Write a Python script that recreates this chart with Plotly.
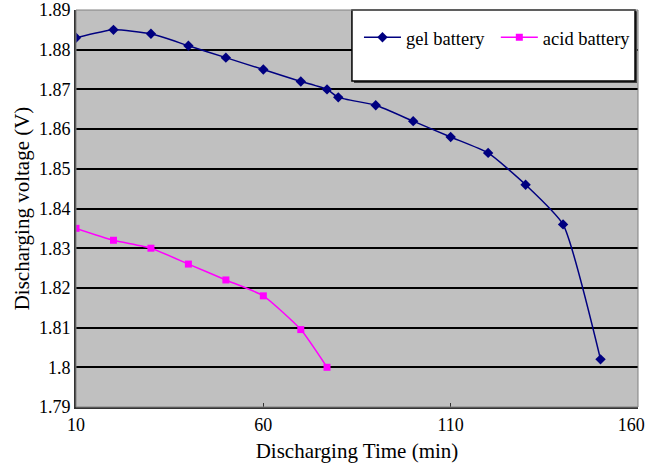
import plotly.graph_objects as go

gel_time = [10, 20, 30, 40, 50, 60, 70, 77, 80, 90, 100, 110, 120, 130, 140, 150]
gel_voltage = [1.883, 1.885, 1.884, 1.881, 1.878, 1.875, 1.872, 1.870, 1.868, 1.866,
               1.862, 1.858, 1.854, 1.846, 1.836, 1.802]
acid_time = [10, 20, 30, 40, 50, 60, 70, 77]
acid_voltage = [1.835, 1.832, 1.830, 1.826, 1.822, 1.818, 1.8095, 1.800]

x_ticks = [10, 60, 110, 160]
x_tick_text = ["10", "60", "110", "160\u00a0\u00a0\u00a0"]
y_ticks = [1.79, 1.80, 1.81, 1.82, 1.83, 1.84, 1.85, 1.86, 1.87, 1.88, 1.89]
y_tick_text = ["1.79", "1.8", "1.81", "1.82", "1.83", "1.84", "1.85", "1.86", "1.87", "1.88", "1.89"]

FONT = "Liberation Serif"

fig = go.Figure()
fig.add_trace(go.Scatter(
    x=gel_time, y=gel_voltage, name="gel battery", mode="lines+markers",
    line=dict(color="#000080", width=1.5, shape="spline", smoothing=0.5),
    marker=dict(symbol="diamond", size=8, color="#000080"),
    legend="legend",
))
fig.add_trace(go.Scatter(
    x=acid_time, y=acid_voltage, name="acid battery", mode="lines+markers",
    line=dict(color="#ff00ff", width=1.5, shape="spline", smoothing=0.5),
    marker=dict(symbol="square", size=7, color="#ff00ff"),
    legend="legend2",
))

# legend box (shadow + white box)
fig.add_shape(type="rect", xref="paper", yref="paper",
              x0=0.4947, x1=0.9982, y0=0.816, y1=0.997,
              fillcolor="#404040", line=dict(width=0), layer="above")
fig.add_shape(type="rect", xref="paper", yref="paper",
              x0=0.491, x1=0.9947, y0=0.821, y1=1.0,
              fillcolor="white", line=dict(color="black", width=1.5), layer="above")
# plot frame (top/right light)
fig.add_shape(type="rect", xref="paper", yref="paper", x0=0, x1=1, y0=0, y1=1,
              line=dict(color="#808080", width=1), layer="above")

leg_common = dict(bgcolor="rgba(0,0,0,0)", borderwidth=0, xanchor="left", yanchor="middle",
                  font=dict(family=FONT, size=18.5, color="black"), itemwidth=37)

fig.update_layout(
    width=646, height=470,
    margin=dict(l=76, r=8, t=10, b=63, autoexpand=False),
    paper_bgcolor="white", plot_bgcolor="#c0c0c0",
    font=dict(family=FONT, size=18, color="black"),
    showlegend=True,
    legend=dict(x=0.5035, y=0.93, **leg_common),
    legend2=dict(x=0.747, y=0.93, **leg_common),
    xaxis=dict(range=[10, 160], tickvals=x_ticks, ticktext=x_tick_text, automargin=False,
               ticklabeloverflow="allow", ticks="inside", ticklen=4,
               tickcolor="#333", showgrid=False, zeroline=False,
               showline=True, linecolor="#333", linewidth=2,
               tickfont=dict(family=FONT, size=18),
               title=dict(text="Discharging Time (min)", font=dict(family=FONT, size=21), standoff=10)),
    yaxis=dict(range=[1.79, 1.89], tickvals=y_ticks, ticktext=y_tick_text, automargin=False,
               ticks="", showgrid=True, gridcolor="black", gridwidth=2,
               zeroline=False, showline=True, linecolor="#333", linewidth=2,
               tickfont=dict(family=FONT, size=18),
               title=dict(text="Discharging voltage (V)", font=dict(family=FONT, size=21), standoff=4)),
)

fig.write_html("out.html")
